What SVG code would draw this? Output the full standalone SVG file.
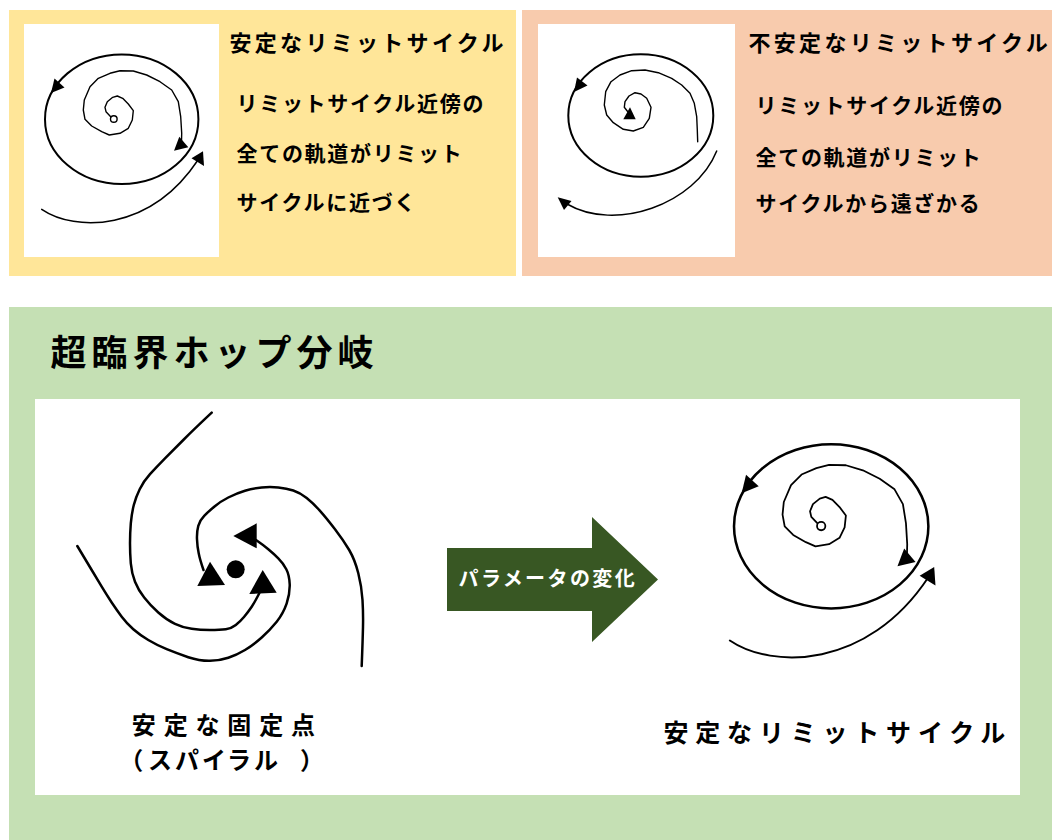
<svg xmlns="http://www.w3.org/2000/svg" width="1052" height="840" viewBox="0 0 1052 840">
<style>
  .txt{font-family:"Noto Sans CJK JP","Noto Sans CJK SC",sans-serif;font-weight:700;fill:#000}
  .ttl{font-size:22px;letter-spacing:3.3px}
  .body{font-size:21px;letter-spacing:1.7px}
  .big{font-size:36px;letter-spacing:5px}
  .lbl1{font-size:24px;letter-spacing:7.85px}
  .lbl2{font-size:24px}
  .lblr{font-size:25px;letter-spacing:6.8px}
  .arrtxt{font-size:20px;letter-spacing:2.4px;fill:#fff}
  .ln{fill:none;stroke:#000;stroke-linecap:round;stroke-linejoin:round}
  .ah{fill:#000}
</style>
<defs>
  <g id="stableCycle">
    <ellipse class="ln" cx="121.7" cy="119.2" rx="76.7" ry="64.8" stroke-width="2"/>
    <polygon class="ah" points="51,93 54.5,78.5 64.5,87.5"/>
    <polyline class="ln" stroke-width="1.4" points="110.7,116.7 106,111.7 105,107.3 107.3,101.7 112.7,97.3 117.3,96 122.7,98.3 128.3,104 133.3,110.7 132.3,120 128.3,128.3 120,133.3 109.3,135 101.7,131.7 91.7,126 85,119.3 83.3,110 84.3,100 90,86.7 98.3,78.3 110,73.3 120,70.7 133.3,71 146.7,75 160,81.7 171.7,90 178.3,101.7 180.7,116.7 181.7,133.3 181.5,142"/>
    <circle cx="113.8" cy="119" r="3.3" fill="#fff" stroke="#000" stroke-width="1.4"/>
    <polygon class="ah" points="179.3,136.7 188.3,147.3 174,150.7"/>
    <path class="ln" stroke-width="1.5" d="M41.7,209.3 C75,232 150,232 198,160"/>
    <polygon class="ah" points="203,151.3 204,166 191.5,158.3"/>
  </g>
</defs>

<g id="panel-stable">
  <rect x="9" y="10" width="507" height="266" fill="#FFE699"/>
  <rect x="24" y="24" width="195" height="233" fill="#fff"/>
  <use href="#stableCycle"/>
  <text class="txt ttl" x="229.5" y="51.4">安定なリミットサイクル</text>
  <text class="txt body" x="236.5" y="111.3">リミットサイクル近傍の</text>
  <text class="txt body" x="236.5" y="161.3">全ての軌道がリミット</text>
  <text class="txt body" x="236.5" y="209.7">サイクルに近づく</text>
</g>

<g id="panel-unstable">
  <rect x="522" y="10" width="530" height="266" fill="#F8CBAD"/>
  <rect x="538" y="24" width="197" height="233" fill="#fff"/>
  <ellipse class="ln" cx="640.8" cy="115.5" rx="72.5" ry="61.2" stroke-width="2"/>
  <polygon class="ah" points="574,92 577,77.5 587.5,85.5"/>
  <polyline class="ln" stroke-width="1.4" points="697.7,141.7 697.3,130 696.7,116.7 694.3,103.3 690,93.3 681.7,85 671.7,78.3 658.3,72.7 645,70 631.7,70.7 620,75 611,81.7 605.7,91.7 604.3,105 606.7,115 613.3,122.7 623.3,129.3 633.3,131 643.3,127.3 649.3,118.3 651,107.3 646.7,98.3 641,94 635,92.7 629,96 625,101.7 624.3,107.3 628,112"/>
  <polygon class="ah" points="630,107.3 623.3,119.3 635.7,119.3"/>
  <path class="ln" stroke-width="1.5" d="M716.7,151 C695,205 615,232 567,204"/>
  <polygon class="ah" points="557.7,197.3 571.5,201 564,210"/>
  <text class="txt ttl" x="748.5" y="51.4">不安定なリミットサイクル</text>
  <text class="txt body" x="755.5" y="113">リミットサイクル近傍の</text>
  <text class="txt body" x="755.5" y="164.5">全ての軌道がリミット</text>
  <text class="txt body" x="755.5" y="211.3">サイクルから遠ざかる</text>
</g>

<g id="panel-hopf">
  <rect x="9" y="307" width="1043" height="533" fill="#C5E0B4"/>
  <text class="txt big" x="50.5" y="365.7">超臨界ホップ分岐</text>
  <rect x="35" y="399" width="985" height="396" fill="#fff"/>

  <g id="stable-spiral">
    <path class="ln" stroke-width="2.5" d="M211.7,412.7 Q193.3,430 183.3,440 Q173.3,450 165,458.3 Q156.7,466.7 150,474.2 Q143.3,481.7 139.7,489.2 Q136,496.7 133.8,505 Q131.7,513.3 130.8,523.3 Q130,533.3 130,543.3 Q130,553.3 130.8,563.3 Q131.7,573.3 135,581.7 Q138.3,590 144.2,597.5 Q150,605 158.3,612.5 Q166.7,620 175,623.8 Q183.3,627.7 191.7,628.8 Q200,630 210,630 Q220,630 225.8,629.2 Q231.7,628.3 235.8,625 Q240,621.7 244.2,616.7 Q248.3,611.7 251.7,606.7 Q255,601.7 259.3,593.3"/>
    <polygon class="ah" points="262.7,570 249.3,594 276.7,592.7"/>
    <path class="ln" stroke-width="2.5" d="M77.3,546 Q86.7,561.7 91.7,570 Q96.7,578.3 101.7,586.7 Q106.7,595 111.7,602.5 Q116.7,610 121.7,616.7 Q126.7,623.3 133.3,629.2 Q140,635 148.3,640 Q156.7,645 166.7,649.2 Q176.7,653.3 188.3,657.2 Q200,661 210,660.8 Q220,660.7 228.3,657.8 Q236.7,655 245,650 Q253.3,645 261.7,637.5 Q270,630 276.7,621.7 Q283.3,613.3 286.7,603.3 Q290,593.3 289.7,584.2 Q289.3,575 286.3,569.2 Q283.3,563.3 278.3,558.3 Q273.3,553.3 268.3,549.2 Q263.3,545 256,540"/>
    <polygon class="ah" points="233.3,536 256.7,523.3 256.7,548.3"/>
    <path class="ln" stroke-width="2.5" d="M361.7,666 Q362.7,640 363,626.7 Q363.3,613.3 362.5,600 Q361.7,586.7 358.3,573.3 Q355,560 349.2,550 Q343.3,540 335,529.2 Q326.7,518.3 320,510.8 Q313.3,503.3 306.7,498 Q300,492.7 293.3,490.5 Q286.7,488.3 278.3,487.5 Q270,486.7 261.7,487.5 Q253.3,488.3 245,490.8 Q236.7,493.3 228.3,497.5 Q220,501.7 214.2,506.7 Q208.3,511.7 204.2,515.8 Q200,520 198.3,525.8 Q196.7,531.7 197,539.2 Q197.3,546.7 198.7,553.3 Q200,560 203.5,570"/>
    <polygon class="ah" points="210,561.7 197.3,586 225,585"/>
    <circle cx="235.7" cy="569.3" r="9" fill="#000"/>
    <text class="txt lbl1" x="131.8" y="734.1">安定な固定点</text>
    <text class="txt lbl2" x="119.3 148 175 202 227 254 300" y="769.1">（スパイラル）</text>
  </g>

  <g id="param-arrow">
    <polygon points="447,548 592,548 592,517 658,579.5 592,642 592,611 447,611" fill="#385723"/>
    <text class="txt arrtxt" x="458.5" y="585.6">パラメータの変化</text>
  </g>

  <g id="stable-limit-cycle">
    <use href="#stableCycle" transform="matrix(1.267 0 0 1.267 677 375.3)"/>
    <text class="txt lblr" x="663.5" y="741.5">安定なリミットサイクル</text>
  </g>
</g>
</svg>
